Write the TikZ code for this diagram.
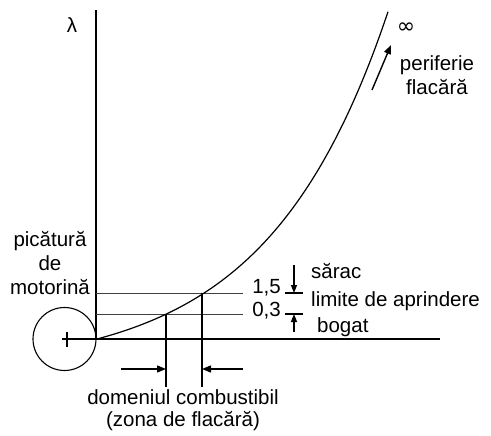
\documentclass[tikz,border=0pt]{standalone}
\usepackage{fontspec}
\setmainfont{Liberation Sans}
\newfontfamily\symfont{DejaVu Sans}
\usetikzlibrary{arrows.meta}
\begin{document}
\begin{tikzpicture}[x=1pt,y=-1pt,
  lbl/.style={font=\fontsize{20.5}{24}\selectfont, inner sep=0pt},
  ln/.style={line width=1.2pt},
  thin/.style={line width=1pt, draw=black!75},
  arr/.style={line width=1.4pt, -{Triangle[length=9pt,width=7pt]}}]
\useasboundingbox (0,0) rectangle (491,436);
% axes
\coordinate (O) at (96,339);
\coordinate (Ytop) at (96,10);
\coordinate (Xl) at (62,339);
\coordinate (Xr) at (440,339);
\draw[ln] (O) -- (Ytop);
\draw[ln] (Xl) -- (Xr);
\node[lbl] (lam) at (72,25) {λ};
% droplet
\node[draw, circle, line width=1.1pt, minimum size=63pt, inner sep=0pt] (drop) at (64.5,339) {};
\coordinate (pt) at (67,332);
\coordinate (pb) at (67,347);
\draw[ln] (pt) -- (pb);
\node[lbl, align=center] (pic) at (50,263) {picătură\\[0pt]de\\motorină};
% limit lines
\coordinate (a15) at (96,293);
\coordinate (b15) at (243,293);
\coordinate (a03) at (96,314);
\coordinate (b03) at (243,314);
\draw[thin] (a15) -- (b15);
\draw[thin] (a03) -- (b03);
% curve
\draw[line width=1.2pt] plot[domain=0:291, samples=90, smooth] ({97+\x},{339-32.1*(exp(0.0083*\x)-1)});
% vertical domain lines
\coordinate (v1t) at (166,314);
\coordinate (v1b) at (166,387);
\coordinate (v2t) at (202,293);
\coordinate (v2b) at (202,387);
\draw[ln] (v1t) -- (v1b);
\draw[ln] (v2t) -- (v2b);
\coordinate (al) at (121,369);
\coordinate (alh) at (166,369);
\coordinate (ar) at (243,369);
\coordinate (arh) at (202,369);
\draw[arr] (al) -- (alh);
\draw[arr] (ar) -- (arh);
\node[lbl] (dom) at (183,397) {domeniul combustibil};
\node[lbl] (zona) at (183,421) {(zona de flacără)};
% labels for limits
\node[lbl, anchor=east] (v15) at (281,288) {1,5};
\node[lbl, anchor=east] (v03) at (281,311) {0,3};
\coordinate (m15a) at (285,293);
\coordinate (m15b) at (303,293);
\coordinate (m03a) at (285,314);
\coordinate (m03b) at (303,314);
\draw[ln] (m15a) -- (m15b);
\draw[ln] (m03a) -- (m03b);
\coordinate (d1) at (294,265);
\coordinate (d1h) at (294,293);
\coordinate (d2) at (294,332);
\coordinate (d2h) at (294,314);
\draw[arr, -{Triangle[length=8pt,width=6pt]}] (d1) -- (d1h);
\draw[arr, -{Triangle[length=8pt,width=6pt]}] (d2) -- (d2h);
\node[lbl, anchor=west] (sarac) at (311,271) {sărac};
\node[lbl, anchor=west] (lim) at (311,301) {limite de aprindere};
\node[lbl, anchor=west] (bog) at (317,327) {bogat};
% top right
\node[font=\symfont\fontsize{22}{24}\selectfont, inner sep=0pt] (inf) at (406,28) {∞};
\coordinate (pa) at (372,90);
\coordinate (pb2) at (391,45);
\draw[arr] (pa) -- (pb2);
\node[lbl, align=center] (per) at (437,75) {periferie\\flacără};
\end{tikzpicture}
\end{document}
